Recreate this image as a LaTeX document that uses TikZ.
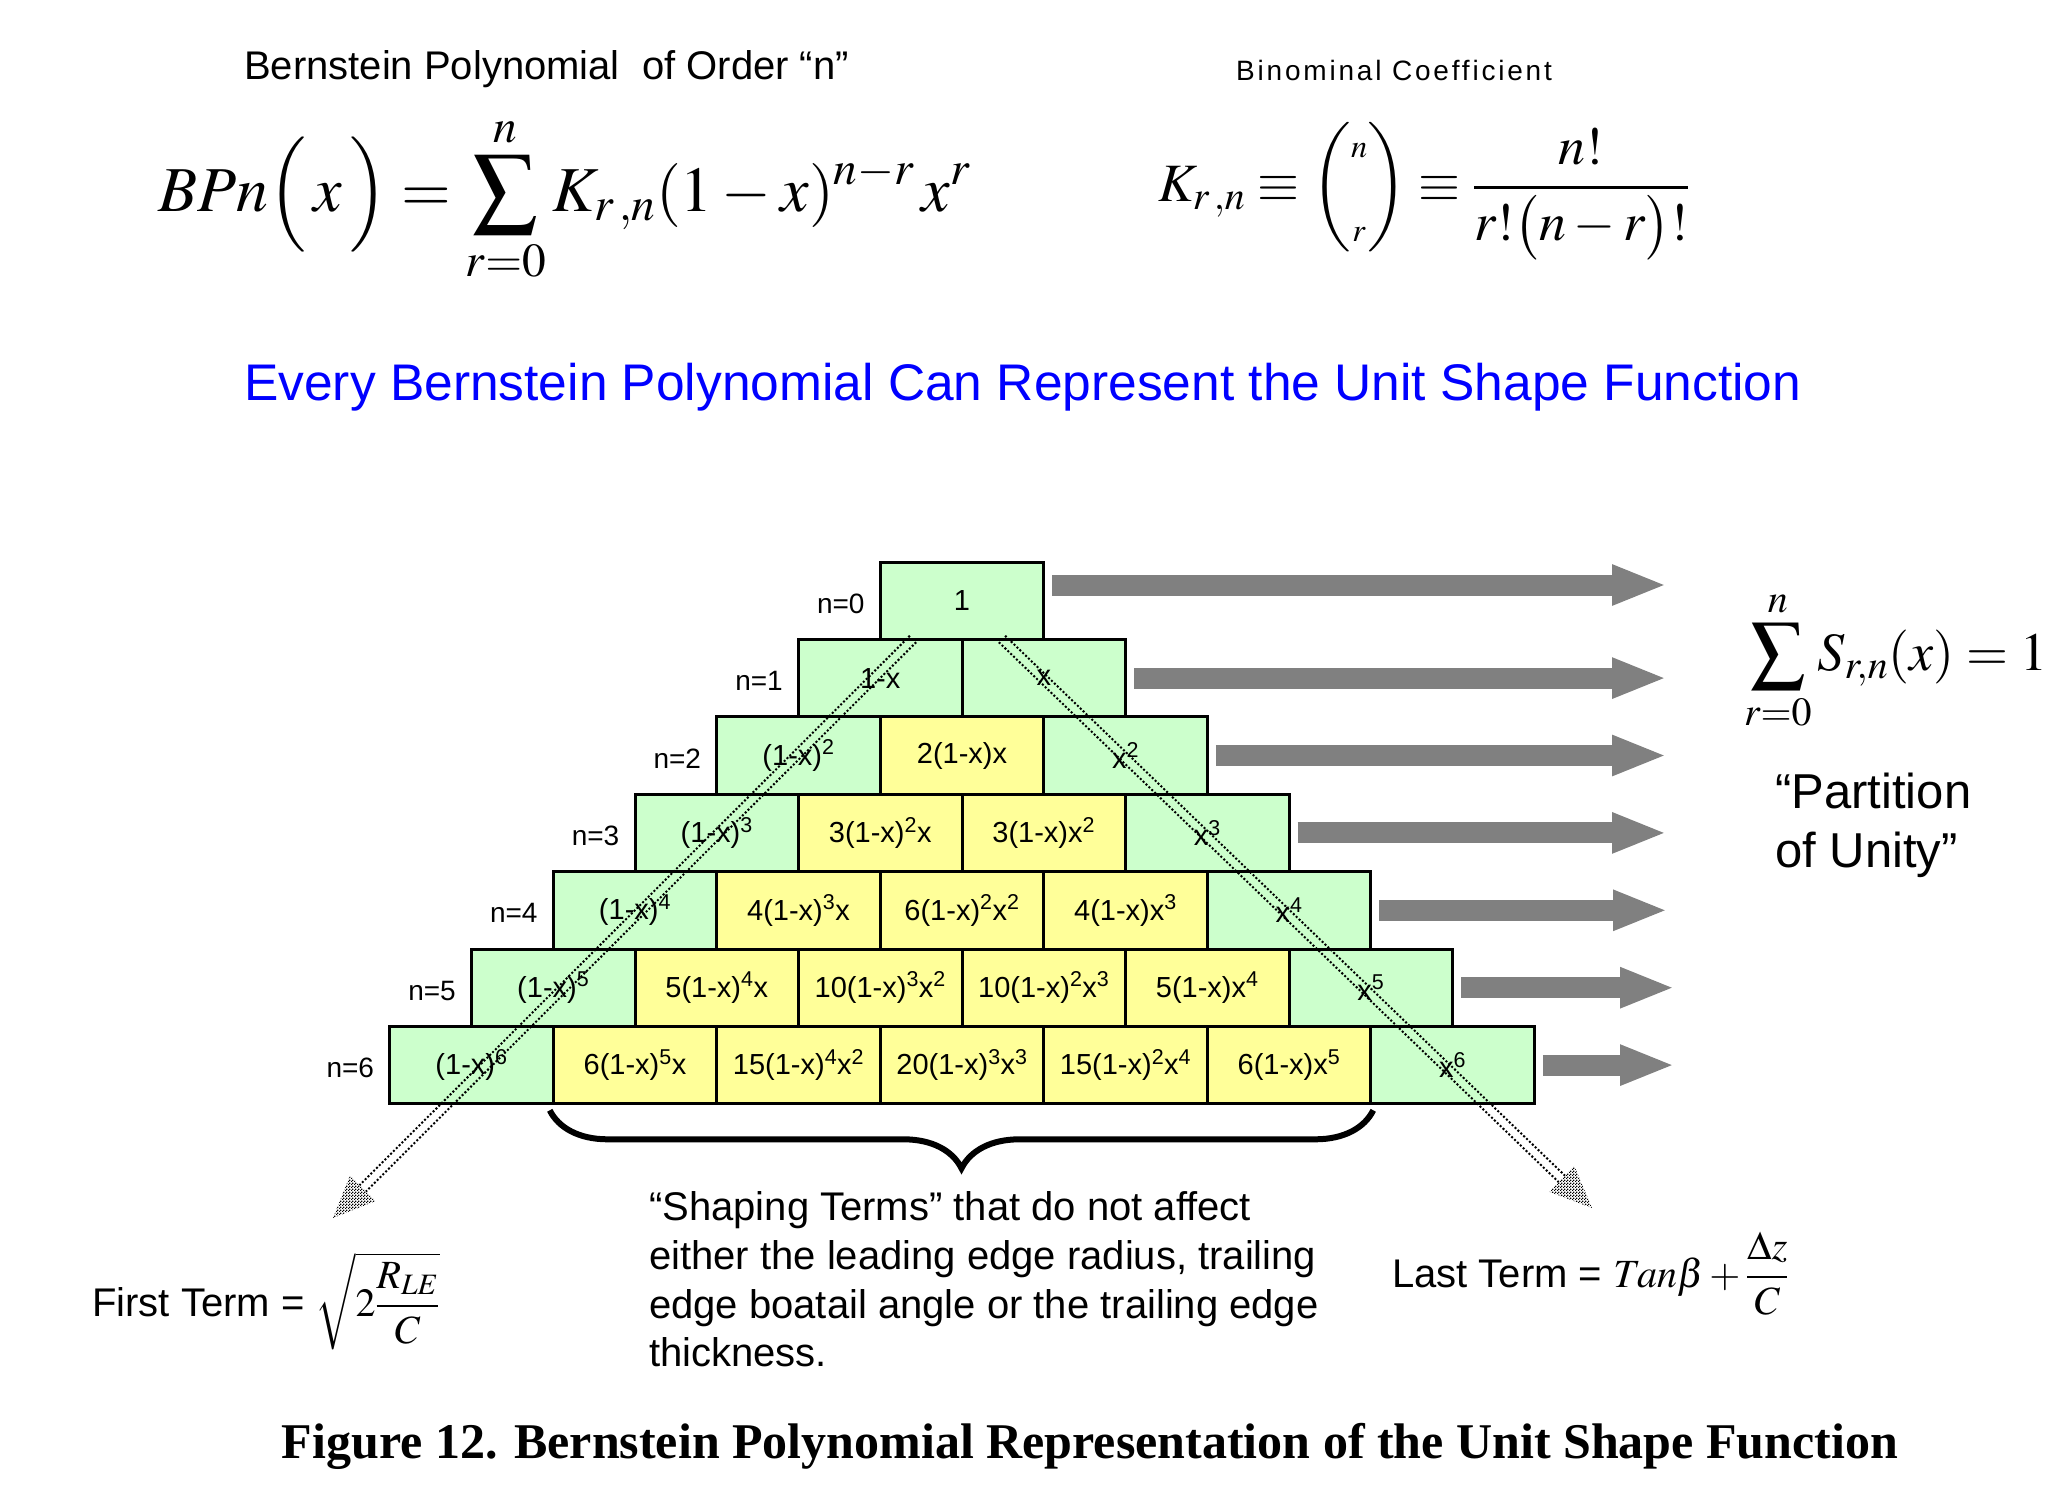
\documentclass[tikz,border=0pt]{standalone}
\usepackage{amsmath}
\usepackage{mathptmx}
\usepackage[no-math]{fontspec}
\setmainfont{Liberation Serif}
\newfontfamily\arial{Liberation Sans}
\newfontfamily\arialls[LetterSpace=10]{Liberation Sans}
\usetikzlibrary{calc,patterns,decorations.pathreplacing,arrows.meta}
\definecolor{cellgreen}{HTML}{CCFFCC}
\definecolor{cellyellow}{HTML}{FFFF99}
\definecolor{arrowgray}{HTML}{808080}
\definecolor{titleblue}{HTML}{0000FF}
\pgfdeclarepatternformonly{checker}{\pgfpointorigin}{\pgfpoint{3pt}{3pt}}{\pgfpoint{3pt}{3pt}}{%
  \pgfpathrectangle{\pgfpointorigin}{\pgfpoint{1.5pt}{1.5pt}}%
  \pgfpathrectangle{\pgfpoint{1.5pt}{1.5pt}}{\pgfpoint{1.5pt}{1.5pt}}%
  \pgfusepath{fill}}
\newcommand\fsz[2]{\fontsize{#1}{#2}\selectfont}
\newcommand\sps[1]{\textsuperscript{#1}}
\newcommand\pcell[4]{%
  \pgfmathsetmacro\pcx{962+(#2-#1/2)*163.5}%
  \pgfmathsetmacro\pcy{600.7+#1*77.4}%
  \node[#3] (c#1-#2) at (\pcx,\pcy) {#4};}
\tikzset{
  cellbox/.style={draw=black,line width=3pt,minimum width=163.5pt,minimum height=77.4pt,inner sep=0pt,font=\arial\fsz{29}{34}},
  greencell/.style={cellbox,fill=cellgreen},
  yellowcell/.style={cellbox,fill=cellyellow},
  nlabel/.style={anchor=east,inner sep=0pt,font=\arial\fsz{28}{34}},
  rowarrow/.style={draw=arrowgray,line width=21pt,-{Triangle[length=55pt,width=37pt]}},
  dotline/.style={black,line width=2pt,dash pattern=on 2pt off 2pt},
  dothead/.style={pattern=checker,pattern color=black},
  bracestyle/.style={line width=6pt,decorate,decoration={brace,mirror,amplitude=58pt}},
  sanstext/.style={inner sep=0pt,anchor=base west,font=\arial\fsz{40}{48}},
  mathtext/.style={inner sep=0pt,anchor=base west}
}
\begin{document}
\begin{tikzpicture}[x=1pt,y=-1pt]
\useasboundingbox (0,0) rectangle (2069,1494);
% header texts
\node[sanstext] (t1) at (244,79) {Bernstein Polynomial\ \ of Order “n”};
\node[sanstext,font=\arialls\fsz{28}{34}] (t2) at (1236,80) {Binominal Coefficient};
\node[mathtext,font=\fsz{64}{70}] (bpn) at (158,211) {$\displaystyle BPn\Bigl(\,x\,\Bigr)=\sum_{r=0}^{n}K_{r\,,n}(1-x)^{n-r}\,x^{r}$};
\node[mathtext,font=\fsz{54}{62}] (kform) at (1158,201) {$\displaystyle K_{r\,,n}\equiv\biggl(\begin{array}{@{}c@{}}\scriptscriptstyle n\\[22pt]\scriptscriptstyle r\end{array}\biggr)\equiv\frac{n!}{r!\bigl(n-r\bigr)!}$};
\node[sanstext,font=\arial\fsz{51.5}{60},text=titleblue] (blue) at (244,400) {Every Bernstein Polynomial Can Represent the Unit Shape Function};
% pyramid
\pcell{0}{0}{greencell}{1}
\pcell{1}{0}{greencell}{1-x}
\pcell{1}{1}{greencell}{x}
\pcell{2}{0}{greencell}{(1-x)\sps{2}}
\pcell{2}{1}{yellowcell}{2(1-x)x}
\pcell{2}{2}{greencell}{x\sps{2}}
\pcell{3}{0}{greencell}{(1-x)\sps{3}}
\pcell{3}{1}{yellowcell}{3(1-x)\sps{2}x}
\pcell{3}{2}{yellowcell}{3(1-x)x\sps{2}}
\pcell{3}{3}{greencell}{x\sps{3}}
\pcell{4}{0}{greencell}{(1-x)\sps{4}}
\pcell{4}{1}{yellowcell}{4(1-x)\sps{3}x}
\pcell{4}{2}{yellowcell}{6(1-x)\sps{2}x\sps{2}}
\pcell{4}{3}{yellowcell}{4(1-x)x\sps{3}}
\pcell{4}{4}{greencell}{x\sps{4}}
\pcell{5}{0}{greencell}{(1-x)\sps{5}}
\pcell{5}{1}{yellowcell}{5(1-x)\sps{4}x}
\pcell{5}{2}{yellowcell}{10(1-x)\sps{3}x\sps{2}}
\pcell{5}{3}{yellowcell}{10(1-x)\sps{2}x\sps{3}}
\pcell{5}{4}{yellowcell}{5(1-x)x\sps{4}}
\pcell{5}{5}{greencell}{x\sps{5}}
\pcell{6}{0}{greencell}{(1-x)\sps{6}}
\pcell{6}{1}{yellowcell}{6(1-x)\sps{5}x}
\pcell{6}{2}{yellowcell}{15(1-x)\sps{4}x\sps{2}}
\pcell{6}{3}{yellowcell}{20(1-x)\sps{3}x\sps{3}}
\pcell{6}{4}{yellowcell}{15(1-x)\sps{2}x\sps{4}}
\pcell{6}{5}{yellowcell}{6(1-x)x\sps{5}}
\pcell{6}{6}{greencell}{x\sps{6}}
% row labels
\foreach \r in {0,...,6}{\node[nlabel] (n\r) at ($(c\r-0.west)+(-14,3)$) {n=\r};}
% row arrows
\coordinate (tip0) at (1667,585);
\draw[rowarrow] ($(c0-0.east)+(7,-15.7)$) -- (tip0);
\foreach \r/\tx in {1/1667,2/1667,3/1667,4/1668,5/1675,6/1675}{
  \coordinate (tip\r) at (\tx,600.7+\r*77.4);
  \draw[rowarrow] ($(c\r-\r.east)+(7,0)$) -- (tip\r);}
% dotted diagonal arrows
\coordinate (la) at (913,639); \coordinate (lt) at (333,1218);
\coordinate (lb) at ($(lt)!42pt!(la)$);
\draw[dotline] ($(la)!4.5pt!90:(lt)$) -- ($(lb)!4.5pt!-90:(la)$);
\draw[dotline] ($(la)!4.5pt!-90:(lt)$) -- ($(lb)!4.5pt!90:(la)$);
\fill[dothead] (lt) -- ($(lb)!18pt!90:(lt)$) -- ($(lb)!18pt!-90:(lt)$) -- cycle;
\coordinate (ra) at (1002,639); \coordinate (rt) at (1592,1208);
\coordinate (rb) at ($(rt)!42pt!(ra)$);
\draw[dotline] ($(ra)!4.5pt!90:(rt)$) -- ($(rb)!4.5pt!-90:(ra)$);
\draw[dotline] ($(ra)!4.5pt!-90:(rt)$) -- ($(rb)!4.5pt!90:(ra)$);
\fill[dothead] (rt) -- ($(rb)!18pt!90:(rt)$) -- ($(rb)!18pt!-90:(rt)$) -- cycle;
% brace
\draw[bracestyle] ($(c6-1.south west)+(-2,5)$) -- ($(c6-5.south east)+(1,5)$);
% right side
\node[mathtext,font=\fsz{54}{60}] (sumS) at (1744,670) {$\displaystyle\sum_{r=0}^{n}S_{r,n}(x)=1$};
\node[sanstext,font=\arial\fsz{49}{59}] (pt1) at (1775,808) {“Partition};
\node[sanstext,font=\arial\fsz{49}{59}] (pt2) at (1775,867) {of Unity”};
% bottom texts
\node[sanstext] (sh1) at (649,1220) {“Shaping Terms” that do not affect};
\node[sanstext] (sh2) at (649,1269) {either the leading edge radius, trailing};
\node[sanstext] (sh3) at (649,1318) {edge boatail angle or the trailing edge};
\node[sanstext] (sh4) at (649,1366) {thickness.};
\node[sanstext] (first) at (92,1316) {First Term = $\sqrt{2\dfrac{R_{LE}}{C}}$};
\node[sanstext] (last) at (1392,1287) {Last Term = $Tan\beta+\dfrac{\Delta z}{C}$};
\node[inner sep=0pt,anchor=base,font=\bfseries\fsz{50}{60}] (cap) at (1090,1458) {Figure 12. Bernstein Polynomial Representation of the Unit Shape Function};
\end{tikzpicture}
\end{document}
